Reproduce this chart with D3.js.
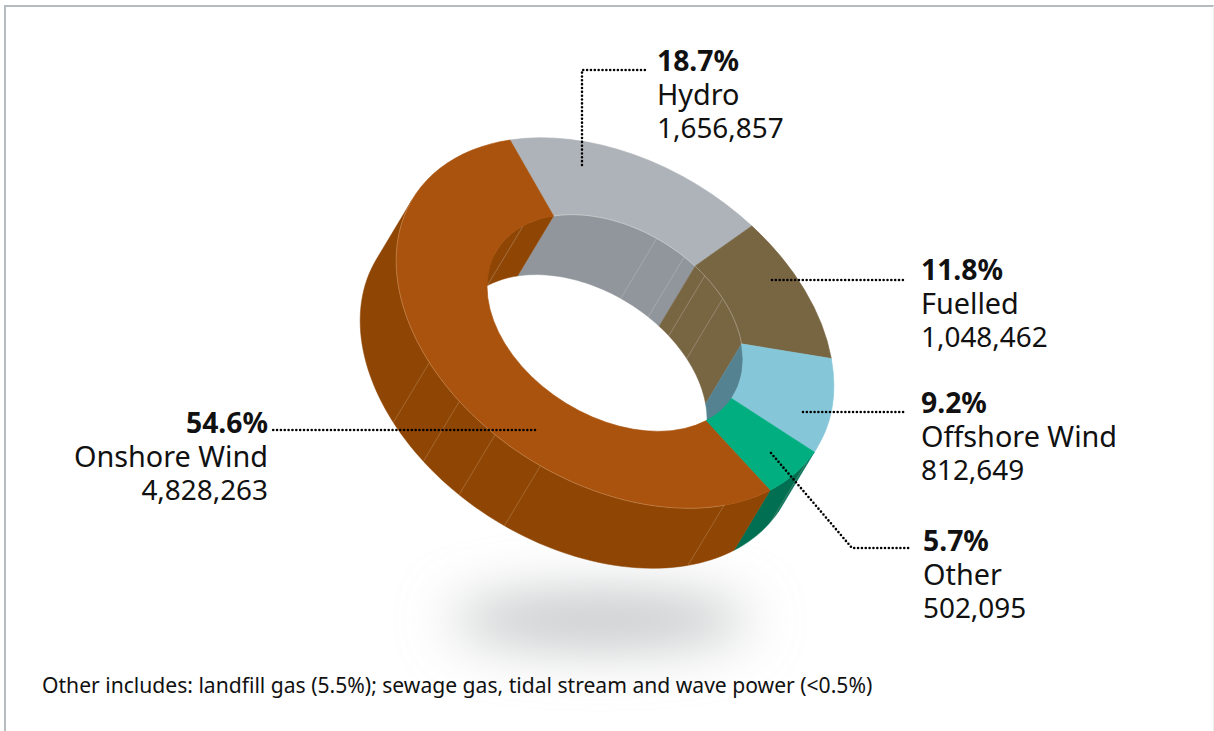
<!DOCTYPE html>
<html><head><meta charset="utf-8">
<style>html,body{margin:0;padding:0;background:#fff;overflow:hidden}svg{display:block}text{font-family:"Noto Sans","Open Sans",sans-serif;fill:#111}</style>
<script src="https://cdn.jsdelivr.net/npm/d3@7"></script></head><body><script>
const categories=["Hydro","Fuelled","Offshore Wind","Other","Onshore Wind"];
const values=[1656857,1048462,812649,502095,4828263];
const percents=["18.7%","11.8%","9.2%","5.7%","54.6%"];
const valueLabels=["1,656,857","1,048,462","812,649","502,095","4,828,263"];
const topColors=["#adb3b8","#786542","#85c7d9","#00ae7f","#aa530e"];
const outerWallColors=["#adb3b8","#786542","#85c7d9","#006f52","#8f4503"];
const innerWallColors=["#91969c","#786542","#558291","#00ae7f","#8f4503"];
const outerSeams=[147.3,178.8,228.6,241.9,254,266.7];
const innerSeams=[47.7,61.4,73.2,86,342.9];
const labelX=[657,921,921,923,268];
const labelY=[71,280,413,551,433];
const labelAnchor=["start","start","start","start","end"];
const leaders=[[[582,165],[582,70],[648,70]],[[772,280],[905,280]],[[803,412],[905,412]],[[771,453],[852,548],[910,548]],[[535,430],[273,430]]];
const footnote="Other includes: landfill gas (5.5%); sewage gas, tidal stream and wave power (<0.5%)";

const W=1214,H=731,cx=615,cy=323,innerR=0.585;
const U=[-105,-183],V=[192,-29],E=[-36,60];
const svg=d3.select("body").append("svg").attr("width",W).attr("height",H);
const defs=svg.append("defs");
defs.append("filter").attr("id","blur").attr("x","-50%").attr("y","-150%").attr("width","200%").attr("height","400%")
  .append("feGaussianBlur").attr("stdDeviation",27);
svg.append("path").attr("d",`M5,${H}V6H${W}`).attr("fill","none").attr("stroke","#b5bbbf").attr("stroke-width",2);
svg.append("line").attr("x1",W-0.5).attr("x2",W-0.5).attr("y1",6).attr("y2",H).attr("stroke","#eceeef");
svg.append("ellipse").attr("cx",600).attr("cy",620).attr("rx",150).attr("ry",27).attr("fill","#c2c4c6").attr("filter","url(#blur)");

const rad=d=>d*Math.PI/180;
const project=(deg,r,off)=>{const a=rad(deg);return [cx+r*(U[0]*Math.cos(a)+V[0]*Math.sin(a))+(off?E[0]:0),cy+r*(U[1]*Math.cos(a)+V[1]*Math.sin(a))+(off?E[1]:0)];};
const det=U[0]*V[1]-V[0]*U[1];
const phi=(Math.atan2((U[0]*E[1]-U[1]*E[0])/det,(V[1]*E[0]-V[0]*E[1])/det)*180/Math.PI+360)%360;
const pie=d3.pie().sort(null).value(d=>d)(values).map(s=>({...s,a0:s.startAngle*180/Math.PI,a1:s.endAngle*180/Math.PI}));
const line=d3.line();
const wall=(a0,a1,r)=>{const n=Math.max(2,Math.ceil((a1-a0)/2));const t=d3.range(n+1).map(i=>a0+(a1-a0)*i/n);
  return line(t.map(x=>project(x,r,false)).concat(t.slice().reverse().map(x=>project(x,r,true))))+"Z";};
const overlap=(a0,a1,b0,b1)=>{const s=Math.max(a0,b0),e=Math.min(a1,b1);return e>s?[s,e]:null;};
const outerRange=[phi-90,phi+90];
const innerRanges=[[phi+90,phi+270],[phi-270,phi-90]];
const gW=svg.append("g");
pie.forEach((s,i)=>{
  const o=overlap(s.a0,s.a1,outerRange[0],outerRange[1]);
  if(o) gW.append("path").attr("d",wall(o[0],o[1],1)).attr("fill",outerWallColors[i]).attr("stroke",outerWallColors[i]).attr("stroke-width",.5);
  innerRanges.forEach(R=>{const q=overlap(s.a0,s.a1,R[0],R[1]);
    if(q) gW.append("path").attr("d",wall(q[0],q[1],innerR)).attr("fill",innerWallColors[i]).attr("stroke",innerWallColors[i]).attr("stroke-width",.5);});
});
const seam=(deg,r,col)=>{const a=project(deg,r,false),b=project(deg,r,true);
  gW.append("line").attr("x1",a[0]).attr("y1",a[1]).attr("x2",b[0]).attr("y2",b[1]).attr("stroke",col).attr("stroke-width",.6).attr("stroke-opacity",.5);};
outerSeams.forEach(d=>seam(d,1,"#d9b892"));
innerSeams.forEach(d=>seam(d,innerR,"#d8d8d4"));
const arc=d3.arc().innerRadius(innerR).outerRadius(1);
const face=svg.append("g").attr("transform",`matrix(${V[0]},${V[1]},${-U[0]},${-U[1]},${cx},${cy})`);
face.selectAll("path").data(pie).join("path").attr("d",arc).attr("fill",(d,i)=>topColors[i]).attr("stroke",(d,i)=>topColors[i]).attr("stroke-width",.003);
const rim=(a0,a1,r)=>{const n=Math.ceil((a1-a0)/2);return line(d3.range(n+1).map(i=>project(a0+(a1-a0)*i/n,r,false)));};
svg.append("path").attr("d",rim(pie[4].a0+15,phi+90,1)).attr("fill","none").attr("stroke","#e6c9a8").attr("stroke-width",.5).attr("stroke-opacity",.6);
svg.append("path").attr("d",rim(pie[0].a0,pie[1].a1,innerR)).attr("fill","none").attr("stroke","#e4e4e2").attr("stroke-width",.5).attr("stroke-opacity",.7);
leaders.forEach(p=>svg.append("path").attr("d",line(p)).attr("fill","none").attr("stroke","#000").attr("stroke-width",2.6).attr("stroke-linecap","round").attr("stroke-dasharray","0 3.85"));
categories.forEach((c,i)=>{
  const t=svg.append("text").attr("text-anchor",labelAnchor[i]);
  t.append("tspan").attr("x",labelX[i]).attr("y",labelY[i]).attr("font-size",28.3).attr("font-weight",700).text(percents[i]);
  t.append("tspan").attr("x",labelX[i]).attr("y",labelY[i]+33.5).attr("font-size",28.8).text(c);
  t.append("tspan").attr("x",labelX[i]).attr("y",labelY[i]+67).attr("font-size",27.9).text(valueLabels[i]);
});
svg.append("text").attr("x",42).attr("y",692.5).attr("font-size",21.1).text(footnote);
</script></body></html>
